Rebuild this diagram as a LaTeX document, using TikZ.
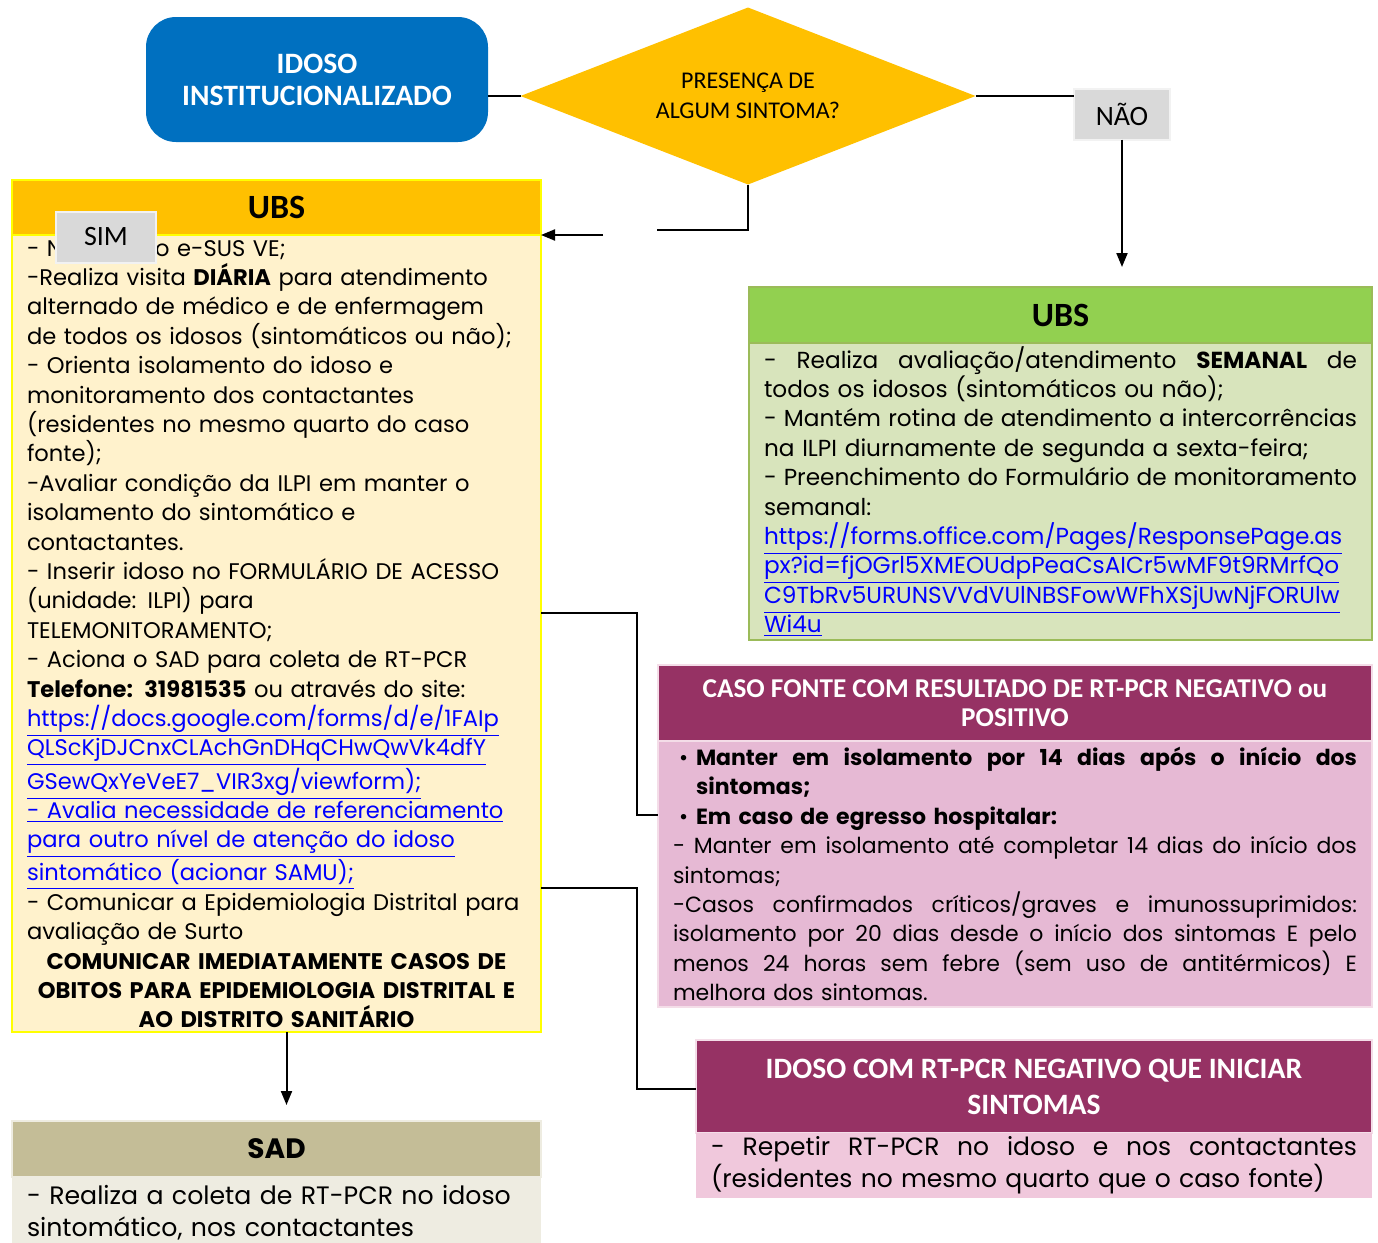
\documentclass[tikz,border=0pt]{standalone}
\usepackage{fontspec}
\setmainfont{Poppins}
\newfontfamily\headfont{Carlito}
\usepackage{xcolor}
\usetikzlibrary{positioning,arrows.meta,shapes.geometric}
\definecolor{idosoblue}{HTML}{0070C0}
\definecolor{sintgold}{HTML}{FFC000}
\definecolor{taggray}{HTML}{D9D9D9}
\definecolor{ubscream}{HTML}{FFF2CC}
\definecolor{ubsedge}{HTML}{FFFF00}
\definecolor{ubsgreen}{HTML}{92D050}
\definecolor{ubssage}{HTML}{D8E4BC}
\definecolor{sageedge}{HTML}{9BBB59}
\definecolor{casoplum}{HTML}{963264}
\definecolor{casopink}{HTML}{E6B9D4}
\definecolor{negpink}{HTML}{F0C8DC}
\definecolor{pinkedge}{HTML}{F4DDE8}
\definecolor{sadkhaki}{HTML}{C4BD97}
\definecolor{sadbeige}{HTML}{EEECE1}
\definecolor{linkblue}{HTML}{0000FF}

\newcommand{\jline}[1]{\makebox[\linewidth][s]{\spaceskip=0pt\xspaceskip=0pt #1}}
\newcommand{\linky}[1]{{\color{linkblue}\underline{#1}}}
\newcommand{\bul}{\hspace*{3pt}\makebox[8.5pt][l]{\textbullet}}

\begin{document}
\begin{tikzpicture}[
  x=0.5pt, y=-0.5pt,
  every node/.style={inner sep=0pt, outer sep=0pt},
  head/.style={rectangle, anchor=north west, align=center, font=\headfont\bfseries\fontsize{17}{20}\selectfont},
  body/.style={rectangle, below=0pt of #1, inner xsep=7.5pt, align=left, font=\fontsize{11.3}{14.7}\selectfont},
  tag/.style={rectangle, fill=taggray, draw=black!5, line width=1pt, minimum height=25.5pt, font=\headfont\fontsize{14}{16}\selectfont},
  flow/.style={line width=1pt},
  arrow/.style={flow, -{Triangle[length=7pt, width=5.5pt]}}
]
  \clip (0,0) rectangle (1378,1243);

  % Start and question
  \node[rectangle, rounded corners=15pt, fill=idosoblue, anchor=north west, minimum width=171pt, minimum height=62.5pt,
        text=white, align=center, font=\headfont\bfseries\fontsize{14.8}{16}\selectfont] (idoso) at (146,17) {IDOSO\\INSTITUCIONALIZADO};
  \node[diamond, aspect=2.6, fill=sintgold, minimum width=227.5pt, minimum height=88.5pt, align=center,
        font=\headfont\fontsize{12}{15}\selectfont] (sintoma) at (748,96) {PRESENÇA DE\\ALGUM SINTOMA?};

  % UBS (sim)
  \node[head, fill=sintgold, draw=ubsedge, line width=1pt, minimum width=264.5pt, minimum height=27.5pt] (ubsLh) at (12,180) {UBS};
  \node[body=ubsLh, fill=ubscream, draw=ubsedge, line width=1pt, text width=249.5pt, minimum height=398.5pt] (ubsL) {%
- Notifica no e-SUS VE;\\
-Realiza visita \textbf{DIÁRIA} para atendimento\\
alternado de médico e de enfermagem\\
de todos os idosos (sintomáticos ou não);\\
- Orienta isolamento do idoso e\\
monitoramento dos contactantes\\
(residentes no mesmo quarto do caso\\
fonte);\\
-Avaliar condição da ILPI em manter o\\
isolamento do sintomático e\\
contactantes.\\
- Inserir idoso no FORMULÁRIO DE ACESSO\\
(unidade: ILPI) para\\
TELEMONITORAMENTO;\\
- Aciona o SAD para coleta de RT-PCR\\
\textbf{Telefone: 31981535} ou através do site:\\
\linky{https://docs.google.com/forms/d/e/1FAIp}\\
\linky{QLScKjDJCnxCLAchGnDHqCHwQwVk4dfY}\\
\linky{GSewQxYeVeE7\_VIR3xg/viewform);}\\
\linky{- Avalia necessidade de referenciamento}\\
\linky{para outro nível de atenção do idoso}\\
\linky{sintomático (acionar SAMU);}\\
- Comunicar a Epidemiologia Distrital para\\
avaliação de Surto\\
\makebox[\linewidth]{\textbf{COMUNICAR IMEDIATAMENTE CASOS DE}}\\
\makebox[\linewidth]{\textbf{OBITOS PARA EPIDEMIOLOGIA DISTRITAL E}}\\
\makebox[\linewidth]{\textbf{AO DISTRITO SANITÁRIO}}};

  % UBS (nao)
  \node[head, fill=ubsgreen, draw=sageedge, line width=1pt, minimum width=311.5pt, minimum height=28pt] (ubsRh) at (749,287) {UBS};
  \node[body=ubsRh, fill=ubssage, draw=sageedge, line width=1pt, text width=296.5pt, minimum height=148.5pt,
        font=\fontsize{11.6}{14.7}\selectfont] (ubsR) {%
\jline{- Realiza avaliação/atendimento \textbf{SEMANAL} de}\\
todos os idosos (sintomáticos ou não);\\
\jline{- Mantém rotina de atendimento a intercorrências}\\
na ILPI diurnamente de segunda a sexta-feira;\\
\jline{- Preenchimento do Formulário de monitoramento}\\
semanal:\\
\linky{https://forms.office.com/Pages/ResponsePage.as}\\
\linky{px?id=fjOGrl5XMEOUdpPeaCsAICr5wMF9t9RMrfQo}\\
\linky{C9TbRv5URUNSVVdVUlNBSFowWFhXSjUwNjFORUlw}\\
\linky{Wi4u}};

  % Caso fonte
  \node[head, fill=casoplum, draw=pinkedge, line width=1pt, text=white, minimum width=357pt, minimum height=38pt,
        font=\headfont\bfseries\fontsize{13.6}{14.5}\selectfont] (casoh) at (658,665) {CASO FONTE COM RESULTADO DE RT-PCR NEGATIVO ou\\POSITIVO};
  \node[body=casoh, fill=casopink, draw=pinkedge, line width=1pt, text width=342pt, minimum height=133pt,
        font=\fontsize{11}{14.7}\selectfont] (caso) {%
\jline{\bul\textbf{Manter em isolamento por 14 dias após o início dos}}\\
\hspace*{11.5pt}\textbf{sintomas;}\\
\bul\textbf{Em caso de egresso hospitalar:}\\
\jline{- Manter em isolamento até completar 14 dias do início dos}\\
sintomas;\\
\jline{-Casos confirmados críticos/graves e imunossuprimidos:}\\
\jline{isolamento por 20 dias desde o início dos sintomas E pelo}\\
\jline{menos 24 horas sem febre (sem uso de antitérmicos) E}\\
melhora dos sintomas.};

  % RT-PCR negativo
  \node[head, fill=casoplum, draw=pinkedge, line width=1pt, text=white, minimum width=338pt, minimum height=46.5pt,
        font=\headfont\bfseries\fontsize{14.8}{18}\selectfont] (negh) at (696,1040) {IDOSO COM RT-PCR NEGATIVO QUE INICIAR\\SINTOMAS};
  \node[body=negh, fill=negpink, text width=323pt, minimum height=32.5pt,
        font=\fontsize{12.5}{16}\selectfont] (neg) {%
\jline{- Repetir RT-PCR no idoso e nos contactantes}\\
(residentes no mesmo quarto que o caso fonte)};

  % SAD
  \node[head, fill=sadkhaki, draw=sadbeige, line width=1pt, minimum width=264.5pt, minimum height=28pt,
        font=\bfseries\fontsize{14}{16}\selectfont] (sadh) at (12,1121) {SAD};
  \node[body=sadh, fill=sadbeige, text width=249.5pt, minimum height=36pt,
        font=\fontsize{12.6}{16}\selectfont] (sad) {%
- Realiza a coleta de RT-PCR no idoso\\
sintomático, nos contactantes};

  % Labels
  \node[tag, minimum width=48pt] (nao) at (1122,114) {NÃO};
  \node[tag, minimum width=50pt] (sim) at (106,237) {SIM};

  % Connectors
  \coordinate (simEnd) at (657,230);
  \coordinate (simStart) at (603,235);
  \coordinate (naoEnd) at (1122,267);
  \draw[flow] (sintoma.west) -- (sintoma.west -| idoso.east);
  \draw[flow] (sintoma.east) -- (sintoma.east -| nao.west);
  \draw[arrow] (nao.south) -- (naoEnd);
  \draw[flow] (sintoma.south) |- (simEnd);
  \draw[arrow] (simStart) -- (ubsLh.south east);
  \draw[flow] (ubsL.east |- 0,613) -| (637,815) -- (caso.west |- 0,815);
  \draw[flow] (ubsL.east |- 0,888) -| (637,1089) -- (negh.west |- 0,1089);
  \draw[arrow, shorten >=8pt] ([xshift=5pt]ubsL.south) -- ([xshift=5pt]sadh.north);
\end{tikzpicture}
\end{document}
